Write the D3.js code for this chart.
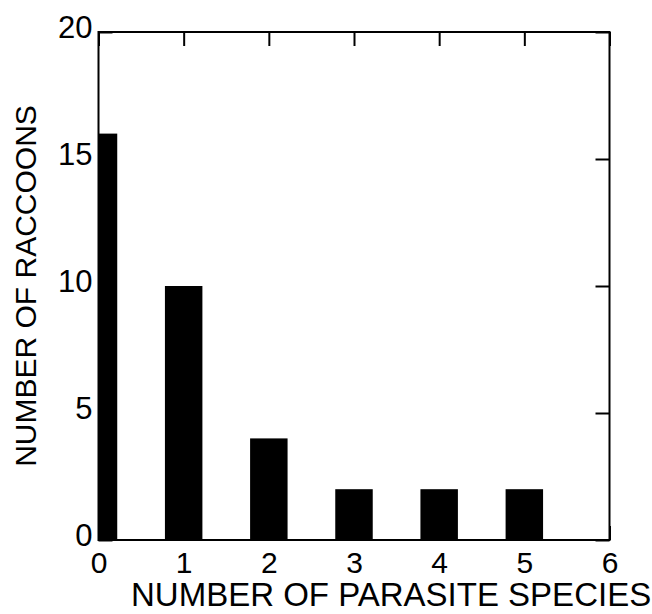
<!DOCTYPE html>
<html>
<head>
<meta charset="utf-8">
<script src="https://cdn.jsdelivr.net/npm/d3@7"></script>
<style>
  html, body { margin: 0; padding: 0; background: #fff; }
  svg { display: block; }
  text { font-family: "Liberation Sans", Arial, sans-serif; fill: #000; }
</style>
</head>
<body>
<svg id="chart" width="652" height="614"></svg>
<script>
// Data
const categories = [0, 1, 2, 3, 4, 5];
const raccoons = [16, 10, 4, 2, 2, 2];
const xTicks = [0, 1, 2, 3, 4, 5, 6];
const yTicks = [0, 5, 10, 15, 20];
const xTitle = "NUMBER OF PARASITE SPECIES";
const yTitle = "NUMBER OF RACCOONS";

const svg = d3.select("#chart");
const L = 98.5, R = 609.5, T = 32, B = 540;
const x = d3.scaleLinear().domain([0, 6]).range([L, R]);
const y = d3.scaleLinear().domain([0, 20]).range([B, T]);
const halfW = 0.22;

svg.append("defs").append("clipPath").attr("id", "plotclip")
  .append("rect").attr("x", L).attr("y", T).attr("width", R - L).attr("height", B - T);

// Bars
svg.append("g").attr("clip-path", "url(#plotclip)")
  .selectAll("rect").data(categories).enter().append("rect")
  .attr("x", (d) => x(d - halfW))
  .attr("width", (d) => x(d + halfW) - x(d - halfW))
  .attr("y", (d, i) => y(raccoons[i]))
  .attr("height", (d, i) => y(0) - y(raccoons[i]))
  .attr("fill", "#000");

// Axes with inward ticks
const tick = 14;
const xb = svg.append("g").attr("transform", `translate(0,${B})`)
  .call(d3.axisBottom(x).tickValues(xTicks).tickSize(-tick).tickPadding(12).tickFormat(d3.format("d")));
const xt = svg.append("g").attr("transform", `translate(0,${T})`)
  .call(d3.axisTop(x).tickValues(xTicks).tickSize(-tick).tickFormat(""));
const yl = svg.append("g").attr("transform", `translate(${L},0)`)
  .call(d3.axisLeft(y).tickValues(yTicks).tickSize(-tick).tickPadding(6).tickFormat(d3.format("d")));
const yr = svg.append("g").attr("transform", `translate(${R},0)`)
  .call(d3.axisRight(y).tickValues(yTicks).tickSize(-tick).tickFormat(""));

[xb, xt, yl, yr].forEach(g => {
  g.select(".domain").remove();
  g.selectAll(".tick line").attr("stroke", "#000").attr("stroke-width", 2);
});
xb.selectAll(".tick text").attr("font-size", 30).attr("dy", "0.71em")
  .attr("font-family", "Liberation Sans, Arial, sans-serif").attr("fill", "#000");
yl.selectAll(".tick text").attr("font-size", 31).attr("dy", "0.18em")
  .attr("font-family", "Liberation Sans, Arial, sans-serif").attr("fill", "#000");

// Frame
svg.append("rect").attr("x", L).attr("y", T).attr("width", R - L).attr("height", B - T)
  .attr("fill", "none").attr("stroke", "#000").attr("stroke-width", 2);

// Titles
svg.append("text").attr("x", 131).attr("y", 606)
  .attr("font-size", 33).text(xTitle);
svg.append("text").attr("transform", `translate(36,${(T + B) / 2}) rotate(-90)`)
  .attr("text-anchor", "middle").attr("font-size", 30).text(yTitle);
</script>
</body>
</html>
